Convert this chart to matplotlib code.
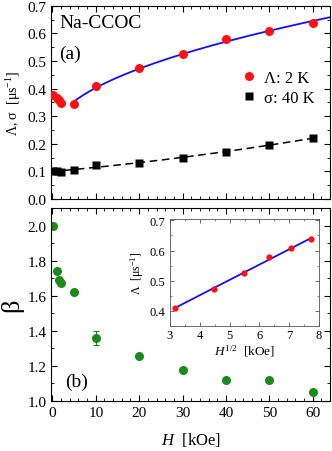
import numpy as np
import matplotlib
matplotlib.use('Agg')
import matplotlib.pyplot as plt
from matplotlib.ticker import MultipleLocator

plt.rcParams['font.family'] = ['Liberation Serif', 'DejaVu Serif']
plt.rcParams['mathtext.fontset'] = 'custom'
plt.rcParams['mathtext.it'] = 'Liberation Serif:italic'
plt.rcParams['mathtext.rm'] = 'Liberation Serif'

# field values [kOe]
H = np.array([0.2, 1, 1.5, 2, 5, 10, 20, 30, 40, 50, 60])
# relaxation rate Lambda at 2 K [us^-1]
lam = np.array([0.378, 0.366, 0.357, 0.349, 0.345, 0.409, 0.474, 0.526, 0.579, 0.607, 0.638])
# sigma at 40 K
H_sig = np.array([0.2, 1, 2, 5, 10, 20, 30, 40, 50, 60])
sig = np.array([0.100, 0.102, 0.098, 0.104, 0.125, 0.130, 0.148, 0.171, 0.197, 0.220])
# stretching exponent beta
beta = np.array([2.00, 1.74, 1.69, 1.67, 1.62, 1.36, 1.255, 1.175, 1.12, 1.12, 1.05])
beta_err = np.array([0.005, 0.01, 0.01, 0.01, 0.01, 0.04, 0.01, 0.01, 0.01, 0.01, 0.01])

red = '#ff1010'
green = '#1a8a1a'
blue = '#1010ff'

fig = plt.figure(figsize=(3.32, 4.52), dpi=100)
ax1 = fig.add_axes([0.154, 0.5575, 0.84, 0.4275])
ax2 = fig.add_axes([0.154, 0.1106, 0.84, 0.427])

def style(ax, fs=11):
    ax.tick_params(which='both', direction='in', top=True, right=True, labelsize=fs)
    ax.tick_params(which='major', length=4, width=0.8)
    ax.tick_params(which='minor', length=2, width=0.6)

# (a) Lambda and sigma
fit_mask = H >= 5
p = np.polyfit(np.sqrt(H[fit_mask]), lam[fit_mask], 1)
hh = np.linspace(5, 64, 200)
ax1.plot(hh, np.polyval(p, np.sqrt(hh)), color=blue, lw=1.3, zorder=2)
q = np.polyfit(H_sig, sig, 2)
hs = np.linspace(0, 60, 200)
ax1.plot(hs, np.polyval(q, hs), color='black', lw=1.1, ls=(0, (5, 3)), zorder=2)
ax1.plot(H, lam, 'o', color=red, ms=6.5, mec='none', label='Λ: 2 K', zorder=3)
ax1.plot(H_sig, sig, 's', color='black', ms=5.3, mec='none', label='σ: 40 K', zorder=3)
ax1.set_xlim(-0.3, 64)
ax1.set_ylim(0, 0.7)
ax1.xaxis.set_major_locator(MultipleLocator(10))
ax1.xaxis.set_minor_locator(MultipleLocator(2))
ax1.yaxis.set_major_locator(MultipleLocator(0.1))
ax1.yaxis.set_minor_locator(MultipleLocator(0.05))
ax1.set_xticklabels([])
ax1.set_ylabel(r'Λ, σ  [μs$^{\mathregular{-1}}$]', fontsize=10, labelpad=3)
style(ax1)
ax1.text(0.03, 0.955, 'Na-CCOC', transform=ax1.transAxes, fontsize=14, va='top')
ax1.text(0.03, 0.80, '(a)', transform=ax1.transAxes, fontsize=14, va='top')
ax1.legend(loc='upper right', bbox_to_anchor=(0.98, 0.72), frameon=False, fontsize=12,
           handletextpad=0.3, borderaxespad=0.2, labelspacing=0.25, handlelength=1.2)

# (b) beta
ax2.errorbar(H, beta, yerr=beta_err, fmt='o', color=green, ms=6.5, mec='none',
             ecolor=green, elinewidth=0.8, capsize=2, capthick=0.8)
ax2.set_xlim(-0.3, 64)
ax2.set_ylim(1.0, 2.1)
ax2.xaxis.set_major_locator(MultipleLocator(10))
ax2.xaxis.set_minor_locator(MultipleLocator(2))
ax2.yaxis.set_major_locator(MultipleLocator(0.2))
ax2.yaxis.set_minor_locator(MultipleLocator(0.1))
ax2.set_ylabel('β', fontsize=19, labelpad=3)
ax2.set_xlabel(r'$H$  [kOe]', fontsize=12, labelpad=8)
style(ax2)
ax2.text(0.05, 0.08, '(b)', transform=ax2.transAxes, fontsize=14)

# inset: Lambda vs sqrt(H)
axi = fig.add_axes([0.512, 0.2765, 0.449, 0.237])
sq = np.sqrt(H[5:])
pi = np.polyfit(sq, lam[5:], 1)
xs = np.linspace(sq.min(), sq.max(), 50)
axi.plot(xs, np.polyval(pi, xs), color=blue, lw=1.3)
axi.plot(sq, lam[5:], 'o', color=red, ms=4.5, mec='none')
axi.set_xlim(3, 8)
axi.set_ylim(0.35, 0.705)
axi.xaxis.set_major_locator(MultipleLocator(1))
axi.xaxis.set_minor_locator(MultipleLocator(0.5))
axi.yaxis.set_major_locator(MultipleLocator(0.1))
axi.yaxis.set_minor_locator(MultipleLocator(0.05))
axi.tick_params(which='both', direction='in', top=True, right=True, labelsize=9,
                color='#555555')
axi.tick_params(which='major', length=3, width=0.6)
axi.tick_params(which='minor', length=1.5, width=0.5)
axi.tick_params(axis='x', pad=2)
for s in axi.spines.values():
    s.set_color('#555555')
    s.set_linewidth(0.6)
axi.set_xlabel(r'$H^{\mathregular{1/2}}$  [kOe]', fontsize=9.5, labelpad=1)
axi.set_ylabel(r'Λ  [μs$^{\mathregular{-1}}$]', fontsize=8.5, labelpad=2)

fig.savefig('out.png', dpi=100)
